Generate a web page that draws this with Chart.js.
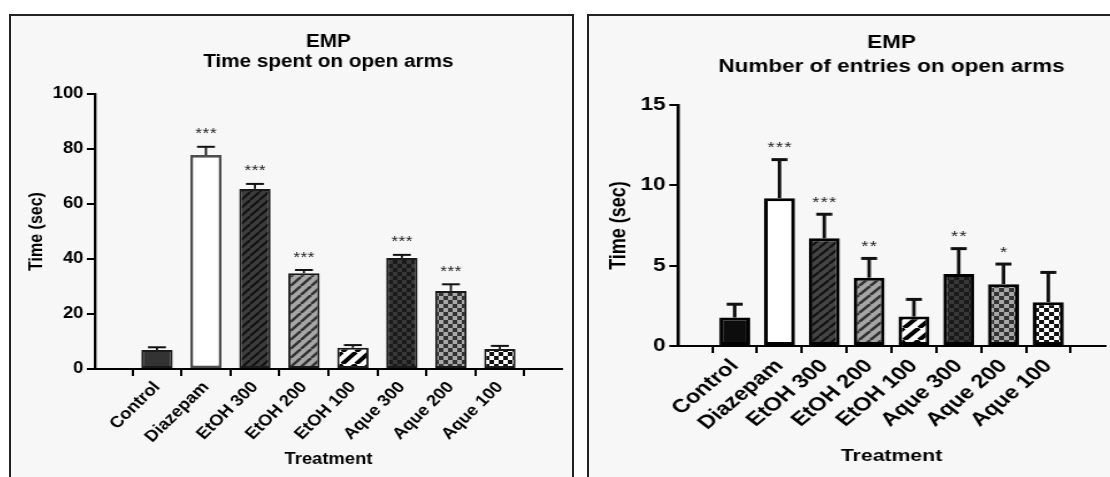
<!DOCTYPE html>
<html>
<head>
<meta charset="utf-8">
<script src="https://cdn.jsdelivr.net/npm/chart.js@4.4.0/dist/chart.umd.min.js"></script>
<style>
  html, body { margin: 0; padding: 0; background: #fff; overflow: hidden; width: 1110px; height: 477px; }
  .panel { position: absolute; top: 14px; height: 480px; border: 2px solid #222; background: #f7f7f7; overflow: hidden; }
  #p1 { left: 9px; width: 561px; }
  #p2 { left: 587px; width: 540px; }
  canvas { position: absolute; left: 0; top: 0; transform-origin: 0 0; }
  #timeChart { transform: scaleX(1.15); }
  #entryChart { transform: scaleX(1.25); }
</style>
</head>
<body>
<div class="panel" id="p1"><canvas id="timeChart" width="487" height="461"></canvas></div>
<div class="panel" id="p2"><canvas id="entryChart" width="417" height="461"></canvas></div>
<script>
const categories = ['Control', 'Diazepam', 'EtOH 300', 'EtOH 200', 'EtOH 100', 'Aque 300', 'Aque 200', 'Aque 100'];

// time spent on open arms (sec), mean and SEM
const timeMean = [6.9, 77.8, 65.5, 34.8, 7.7, 40.4, 28.4, 7.3];
const timeSem = [1.0, 3.0, 1.8, 1.2, 1.0, 1.1, 2.4, 1.1];
const timeSig = ['', '***', '***', '***', '', '***', '***', ''];
const timeTicks = [0, 20, 40, 60, 80, 100];

// number of entries on open arms
const entryMean = [1.77, 9.2, 6.7, 4.25, 1.83, 4.48, 3.85, 2.73];
const entrySem = [0.83, 2.4, 1.5, 1.2, 1.07, 1.58, 1.25, 1.85];
const entrySig = ['', '***', '***', '**', '', '**', '*', ''];
const entryTicks = [0, 5, 10, 15];

const FONT = "'Liberation Sans', Arial, sans-serif";

function stripes(ctx, bg, fg, size, width) {
  const c = document.createElement('canvas');
  c.width = c.height = size;
  const x = c.getContext('2d');
  x.fillStyle = bg;
  x.fillRect(0, 0, size, size);
  x.strokeStyle = fg;
  x.lineWidth = width;
  x.beginPath();
  for (const o of [-size, 0, size]) {
    x.moveTo(o, size);
    x.lineTo(o + size, 0);
  }
  x.stroke();
  return ctx.createPattern(c, 'repeat');
}

function checks(ctx, a, b, cell) {
  const c = document.createElement('canvas');
  c.width = c.height = cell * 2;
  const x = c.getContext('2d');
  x.fillStyle = a;
  x.fillRect(0, 0, cell * 2, cell * 2);
  x.fillStyle = b;
  x.fillRect(0, 0, cell, cell);
  x.fillRect(cell, cell, cell, cell);
  return ctx.createPattern(c, 'repeat');
}

// error bars (upper half only) and significance stars
const errorBars = {
  id: 'errorBars',
  afterDatasetsDraw(chart, args, opts) {
    const ds = chart.data.datasets[0];
    const meta = chart.getDatasetMeta(0);
    const y = chart.scales.y;
    const ctx = chart.ctx;
    ctx.save();
    meta.data.forEach((bar, i) => {
      const top = y.getPixelForValue(ds.data[i].y + ds.errors[i]);
      ctx.strokeStyle = opts.color;
      ctx.lineWidth = opts.width;
      ctx.beginPath();
      ctx.moveTo(bar.x, bar.y);
      ctx.lineTo(bar.x, top);
      ctx.stroke();
      ctx.lineWidth = opts.capWidth;
      ctx.beginPath();
      ctx.moveTo(bar.x - opts.cap, top);
      ctx.lineTo(bar.x + opts.cap, top);
      ctx.stroke();

      const s = ds.stars[i];
      ctx.fillStyle = '#222';
      ctx.font = '15px ' + FONT;
      ctx.textAlign = 'center';
      ctx.textBaseline = 'alphabetic';
      for (let j = 0; j < s.length; j++) {
        ctx.fillText('*', bar.x + (j - (s.length - 1) / 2) * opts.starGap, top - opts.starLift);
      }
    });
    ctx.restore();
  }
};

function buildChart(id, means, sems, sig, ticks, title, g) {
  const ctx = document.getElementById(id).getContext('2d');
  const fills = [
    g.control,
    '#ffffff',
    stripes(ctx, g.dark, '#111', 8, 2),
    stripes(ctx, '#a6a6a6', '#333', 9, 2.5),
    stripes(ctx, '#ffffff', '#000', 12, 4),
    checks(ctx, '#383838', '#1a1a1a', 4),
    checks(ctx, '#a8a8a8', '#333333', 4),
    checks(ctx, '#ffffff', '#111111', 4)
  ];
  const borders = categories.map((c, i) => i === 1 ? g.diazBorder : g.border);
  const widths = categories.map((c, i) => i === 1 ? g.diazWidth : g.borderWidth);

  return new Chart(ctx, {
    type: 'bar',
    data: {
      datasets: [{
        data: means.map((v, i) => ({x: i, y: v})),
        errors: sems,
        stars: sig,
        backgroundColor: fills,
        borderColor: borders,
        borderWidth: widths,
        borderSkipped: false,
        barPercentage: g.barPct,
        categoryPercentage: 1
      }]
    },
    options: {
      responsive: false,
      animation: false,
      events: [],
      layout: {padding: {left: 0, right: g.padRight, top: 0, bottom: 0}},
      plugins: {
        legend: {display: false},
        tooltip: {enabled: false},
        title: {
          display: true,
          fullSize: false,
          text: ['EMP', title],
          color: '#000',
          font: {family: FONT, size: 18, weight: 'bold', lineHeight: g.titleLH},
          padding: {top: g.titleTop, bottom: g.titleBottom}
        },
        errorBars: {color: '#111', width: g.errWidth, capWidth: g.capWidth, cap: g.cap, starGap: g.starGap, starLift: g.starLift}
      },
      scales: {
        x: {
          type: 'linear',
          min: -0.67,
          max: 7.67,
          afterBuildTicks: s => { s.ticks = categories.map((c, i) => ({value: i})); },
          afterFit: s => { s.height = g.xHeight; },
          grid: {drawOnChartArea: false, drawTicks: true, tickLength: 7, color: '#000', lineWidth: 2},
          border: {display: true, color: '#000', width: 2},
          ticks: {
            autoSkip: false, minRotation: g.rot, maxRotation: g.rot, color: '#000', padding: 2,
            font: {family: FONT, size: g.xFont, weight: 'bold'},
            callback: v => categories[v]
          },
          title: {
            display: true, text: 'Treatment', color: '#000',
            font: {family: FONT, size: g.xTitleFont, weight: 'bold'},
            padding: {top: 0, bottom: g.xTitlePad}
          }
        },
        y: {
          min: 0,
          max: ticks[ticks.length - 1],
          afterBuildTicks: s => { s.ticks = ticks.map(v => ({value: v})); },
          afterFit: s => { s.width = g.yWidth; },
          grid: {drawOnChartArea: false, drawTicks: true, tickLength: 7, color: '#000', lineWidth: 2},
          border: {display: true, color: '#000', width: g.axisWidth},
          ticks: {color: '#000', padding: 3, font: {family: FONT, size: g.yFont, weight: 'bold'}},
          title: {
            display: true, text: 'Time (sec)', color: '#000',
            font: {family: FONT, size: g.yTitleFont, weight: 'bold'},
            padding: {top: g.yTitlePad, bottom: 0}
          }
        }
      }
    },
    plugins: [errorBars]
  });
}

buildChart('timeChart', timeMean, timeSem, timeSig, timeTicks, 'Time spent on open arms', {
  control: '#333333', dark: '#3c3c3c', border: '#1a1a1a', borderWidth: 2,
  diazBorder: '#4d4d4d', diazWidth: 2.6, barPct: 0.64, padRight: 8,
  titleLH: 1.1, titleTop: 16, titleBottom: 22.4,
  errWidth: 1.8, capWidth: 2, cap: 7.8, starGap: 6.3, starLift: 8.5,
  xHeight: 108, xFont: 16, rot: 48, xTitleFont: 16, xTitlePad: 7.4,
  yWidth: 73, axisWidth: 2.3, yFont: 16, yTitleFont: 16, yTitlePad: 13.4
});

buildChart('entryChart', entryMean, entrySem, entrySig, entryTicks, 'Number of entries on open arms', {
  control: '#0d0d0d', dark: '#444444', border: '#000', borderWidth: 3,
  diazBorder: '#000', diazWidth: 3, barPct: 0.69, padRight: 4.2,
  titleLH: 1.35, titleTop: 14.9, titleBottom: 25.5,
  errWidth: 2.8, capWidth: 3, cap: 6.4, starGap: 6.7, starLift: 7.5,
  xHeight: 131, xFont: 19, rot: 46, xTitleFont: 17, xTitlePad: 10.8,
  yWidth: 71.2, axisWidth: 2.6, yFont: 18, yTitleFont: 18, yTitlePad: 13.2
});
</script>
</body>
</html>
